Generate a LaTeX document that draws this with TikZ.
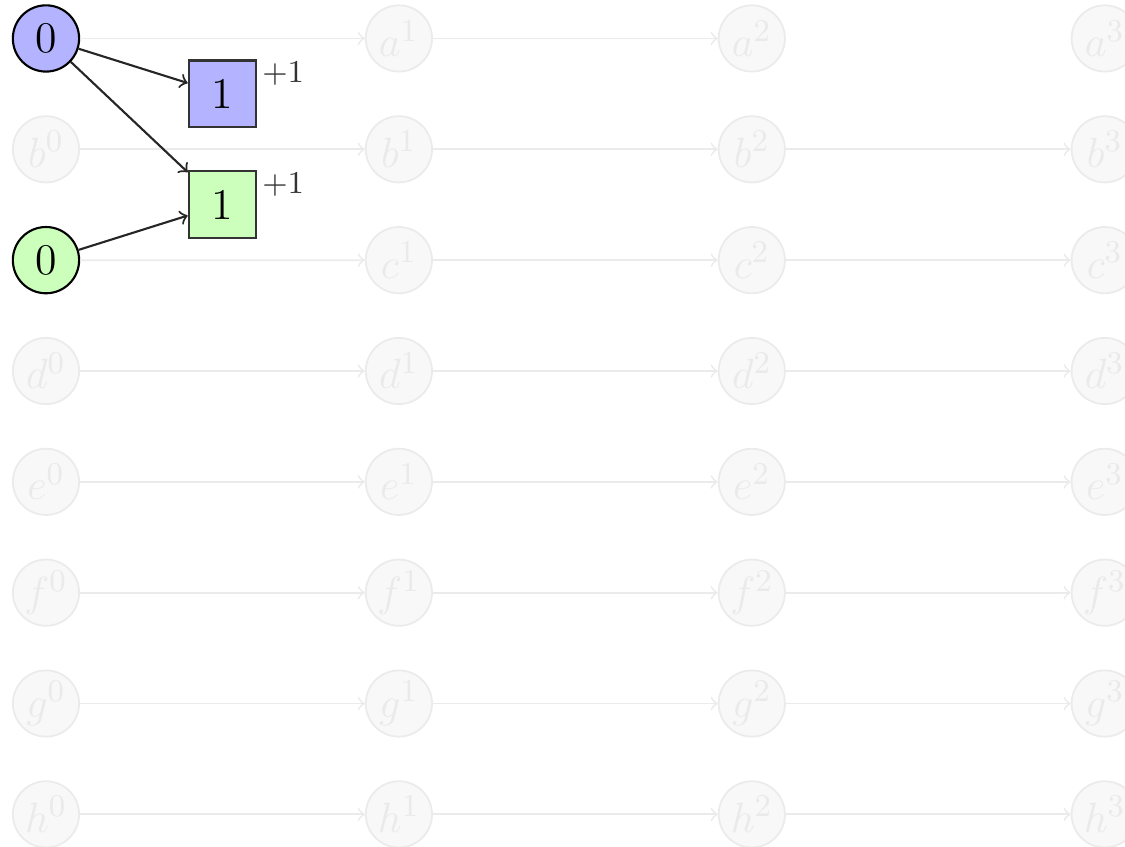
\documentclass[tikz,border=0pt]{standalone}
\usetikzlibrary{calc}
\definecolor{nodeblue}{RGB}{179,179,255}
\definecolor{nodegreen}{RGB}{204,255,187}
\definecolor{fadefill}{RGB}{248,248,248}
\definecolor{fadedraw}{RGB}{235,235,235}
\definecolor{fadetext}{RGB}{234,234,234}
\begin{document}
\begin{tikzpicture}[
  x=1cm,y=1cm,
  every node/.style={font=\fontsize{12.4}{14}\selectfont},
  fadenode/.style={circle,minimum size=0.66cm,inner sep=0pt,draw=fadedraw,fill=fadefill,text=fadetext,line width=0.5pt},
  fadeedge/.style={->,draw=fadedraw,line width=0.5pt},
  hotcircle/.style={circle,minimum size=0.66cm,inner sep=0pt,draw=black,line width=0.6pt},
  hotbox/.style={rectangle,minimum size=0.665cm,inner sep=0pt,draw=black!80,line width=0.6pt},
  hotedge/.style={->,draw=black!85,line width=0.6pt},
  gain/.style={font=\fontsize{9}{10}\selectfont,inner sep=0pt,anchor=north west,text=black!80}
]
\useasboundingbox (-0.458,0.383) rectangle (10.747,-8.053);
% highlighted start nodes sit in the places of a0 and c0
\node[hotcircle,fill=nodeblue] (a0) at (0,0) {0};
\node[hotcircle,fill=nodegreen] (c0) at (0,-2.208) {0};
% faded grid
\foreach \r [count=\i from 0] in {a,b,c,d,e,f,g,h}{
  \foreach \c in {0,1,2,3}{
    \ifnum\c=0
      \ifnum\i=0\else\ifnum\i=2\else
        \node[fadenode] (\r\c) at (3.515*\c,-1.104*\i) {$\r^{\c}$};
      \fi\fi
    \else
      \node[fadenode] (\r\c) at (3.515*\c,-1.104*\i) {$\r^{\c}$};
    \fi
  }
}
\foreach \r in {a,b,c,d,e,f,g,h}{
  \draw[fadeedge] (\r0) -- (\r1);
  \draw[fadeedge] (\r1) -- (\r2);
}
\foreach \r in {b,c,d,e,f,g,h}{
  \draw[fadeedge] (\r2) -- (\r3);
}
% highlighted part
\node[hotbox,fill=nodeblue] (s1) at (1.755,-0.552) {1};
\node[hotbox,fill=nodegreen] (t1) at (1.755,-1.656) {1};
\node[gain] (g1) at ($(s1.north east)+(0.05,-0.02)$) {$+1$};
\node[gain] (g2) at ($(t1.north east)+(0.05,-0.02)$) {$+1$};
\draw[hotedge] (a0) -- (s1);
\draw[hotedge] (a0) -- (t1);
\draw[hotedge] (c0) -- (t1);
\end{tikzpicture}
\end{document}
